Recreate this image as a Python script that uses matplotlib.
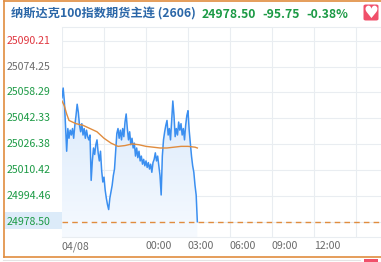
import numpy as np
import matplotlib
matplotlib.use("Agg")
import matplotlib.pyplot as plt
from matplotlib.patches import Rectangle, FancyBboxPatch
from matplotlib.lines import Line2D
from matplotlib.transforms import blended_transform_factory

plt.rcParams['font.family'] = ['Noto Sans CJK SC', 'DejaVu Sans']

# ── DATA ─────────────────────────────────────────────────────────
TITLE_NAME = "纳斯达克100指数期货主连 (2606)"
LAST_PRICE = 24978.50
CHANGE     = -95.75
CHANGE_PCT = -0.38
PREV_CLOSE = 25074.25

STEP_MIN = 5   # minutes between price points, session starts 18:00
price = [
    25055, 25061, 25053, 25038, 25022, 25036, 25030, 25035, 25032, 25036,
    25030, 25038, 25044, 25051, 25046, 25038, 25034, 25039, 25032, 25036,
    25030, 25035, 25031, 25029, 25032, 25004, 25016, 25024, 25020, 25026,
    25029, 25021, 25016, 25022, 25010, 25003, 25006, 24998, 24993, 24989,
    24986, 24993, 24997, 25001, 25007, 25011, 25022, 25033, 25036, 25030,
    25035, 25029, 25036, 25031, 25040, 25045, 25036, 25029, 25034, 25026,
    25030, 25024, 25027, 25019, 25024, 25018, 25022, 25016, 25019, 25014,
    25017, 25013, 25016, 25012, 25015, 25011, 25014, 25009, 25015, 25017,
    25021, 25016, 25019, 25013, 25007, 24995, 25019, 25029, 25034, 25038,
    25041, 25032, 25036, 25029, 25041, 25053, 25044, 25031, 25036, 25032,
    25040, 25035, 25039, 25032, 25036, 25029, 25038, 25044, 25047, 25035,
    25027, 25019, 25013, 25009, 25001, 24995, 24978.5,
]

avg_minutes = [0, 10, 20, 30, 60, 90, 120, 150, 180, 210, 240, 270, 300,
               330, 360, 390, 420, 450, 480, 510, 540, 570, 580]
avg_values = [25053, 25050, 25045, 25041, 25039, 25038, 25036, 25034, 25030,
              25027, 25025, 25025.5, 25026.5, 25026, 25025, 25024.5, 25024,
              25024, 25024.5, 25025, 25025, 25024.5, 25024]

ytick_values = [24978.50, 24994.46, 25010.42, 25026.38,
                25042.33, 25058.29, 25074.25, 25090.21]
xtick_minutes = [0, 180, 360, 540, 720, 900, 1080, 1260]
xtick_labels = ["04/08", "", "00:00", "03:00", "06:00", "09:00", "12:00", ""]

# ── STYLE ────────────────────────────────────────────────────────
W, H = 381, 262
BLUE_LINE = "#3b8ff0"
ORANGE    = "#e08c3e"
GRID      = "#e9edf1"
RED       = "#e0363f"
GREEN     = "#1c9a45"
GRAY_TXT  = "#6b6b6b"
TITLE_BLUE = "#2b67a8"

fig = plt.figure(figsize=(W / 100, H / 100), dpi=100)
fig.patch.set_facecolor("white")

def fx(px):
    return px / W

def fy(py):
    return 1 - py / H

# plot area: x from 62 px, 14 px per hour; y from 27 to 237 px
session_min = 23 * 60
ax = fig.add_axes([fx(62), fy(237), (session_min / 60 * 14) / W, 210 / H])
ax.set_xlim(0, session_min)
ax.set_ylim(24969.06, 25098.67)
ax.set_facecolor("white")

t = np.arange(len(price)) * STEP_MIN
p = np.array(price)

# gradient fill under the price line
poly = ax.fill_between(t, p, 24969.06, color="none", lw=0)
grad = np.linspace(0, 1, 256).reshape(-1, 1)
img = ax.imshow(grad, extent=[0, t[-1], 24969.06, p.max()], origin="lower",
                aspect="auto", cmap=matplotlib.colors.LinearSegmentedColormap.from_list(
                    "fillblue", ["#f6faff", "#d9e9fb"]), zorder=1)
img.set_clip_path(poly.get_paths()[0], transform=ax.transData)

ax.plot(t, p, color=BLUE_LINE, lw=1.1, zorder=3)
ax.plot(avg_minutes, avg_values, color=ORANGE, lw=1.0, zorder=4)
ax.axhline(LAST_PRICE, color=ORANGE, lw=1.0, ls=(0, (4, 3)), zorder=4)

ax.set_yticks(ytick_values)
ax.set_yticklabels([])
ax.set_xticks(xtick_minutes)
ax.set_xticklabels(xtick_labels, fontsize=7.6, color=GRAY_TXT)
for lab in ax.get_xticklabels():
    lab.set_ha("left")
ax.tick_params(length=0, pad=3)
ax.grid(True, color=GRID, lw=0.8)
ax.set_axisbelow(True)
for side in ["left", "right"]:
    ax.spines[side].set_visible(False)
ax.spines["top"].set_color(GRID)
ax.spines["bottom"].set_color(GRID)

# y labels in the left margin, coloured against previous close
trans = blended_transform_factory(fig.transFigure, ax.transData)
fig.add_artist(Rectangle((fx(5), fy(229)), fx(57), 17 / H, transform=fig.transFigure,
                         facecolor="#dcebf9", edgecolor="none"))
for v in ytick_values:
    if v > PREV_CLOSE + 0.001:
        c = RED
    elif v < PREV_CLOSE - 0.001:
        c = GREEN
    else:
        c = GRAY_TXT
    fig.text(fx(7), v, f"{v:.2f}", transform=trans, ha="left", va="center",
             fontsize=7.6, color=c)

# title row
fig.text(fx(11), fy(14), TITLE_NAME, fontsize=8.8, fontweight="bold",
         color=TITLE_BLUE, va="center")
fig.text(fx(202), fy(14), f"{LAST_PRICE:.2f}", fontsize=8.8, fontweight="bold",
         color=GREEN, va="center")
fig.text(fx(262), fy(14), f"{CHANGE:.2f}", fontsize=8.8, fontweight="bold",
         color=GREEN, va="center")
fig.text(fx(306), fy(14), f"{CHANGE_PCT:.2f}%", fontsize=8.8, fontweight="bold",
         color=GREEN, va="center")

# heart button
fig.add_artist(FancyBboxPatch((fx(363.5), fy(20.5)), fx(15), 16 / H,
                              boxstyle="round,pad=0,rounding_size=0.006",
                              transform=fig.transFigure, facecolor="#f0506a",
                              edgecolor="none"))
fig.text(fx(371), fy(12.8), "♥", family="DejaVu Sans", fontsize=12,
         color="white", ha="center", va="center")
fig.add_artist(Rectangle((fx(364), 0), fx(14), 3 / H, transform=fig.transFigure,
                         facecolor="#f0506a", edgecolor="none"))

# orange frame
for xs, ys in [([3.5, 3.5], [0.8, 256.5]), ([3.5, W], [0.8, 0.8]),
               ([3.5, W], [256.5, 256.5])]:
    fig.add_artist(Line2D([fx(x) for x in xs], [fy(y) for y in ys],
                          transform=fig.transFigure, color=ORANGE, lw=1.2))
fig.add_artist(Line2D([fx(3), fx(360)], [fy(259.5), fy(259.5)],
                      transform=fig.transFigure, color="#e4e4e4", lw=0.8))

fig.savefig("out.png", dpi=100)
